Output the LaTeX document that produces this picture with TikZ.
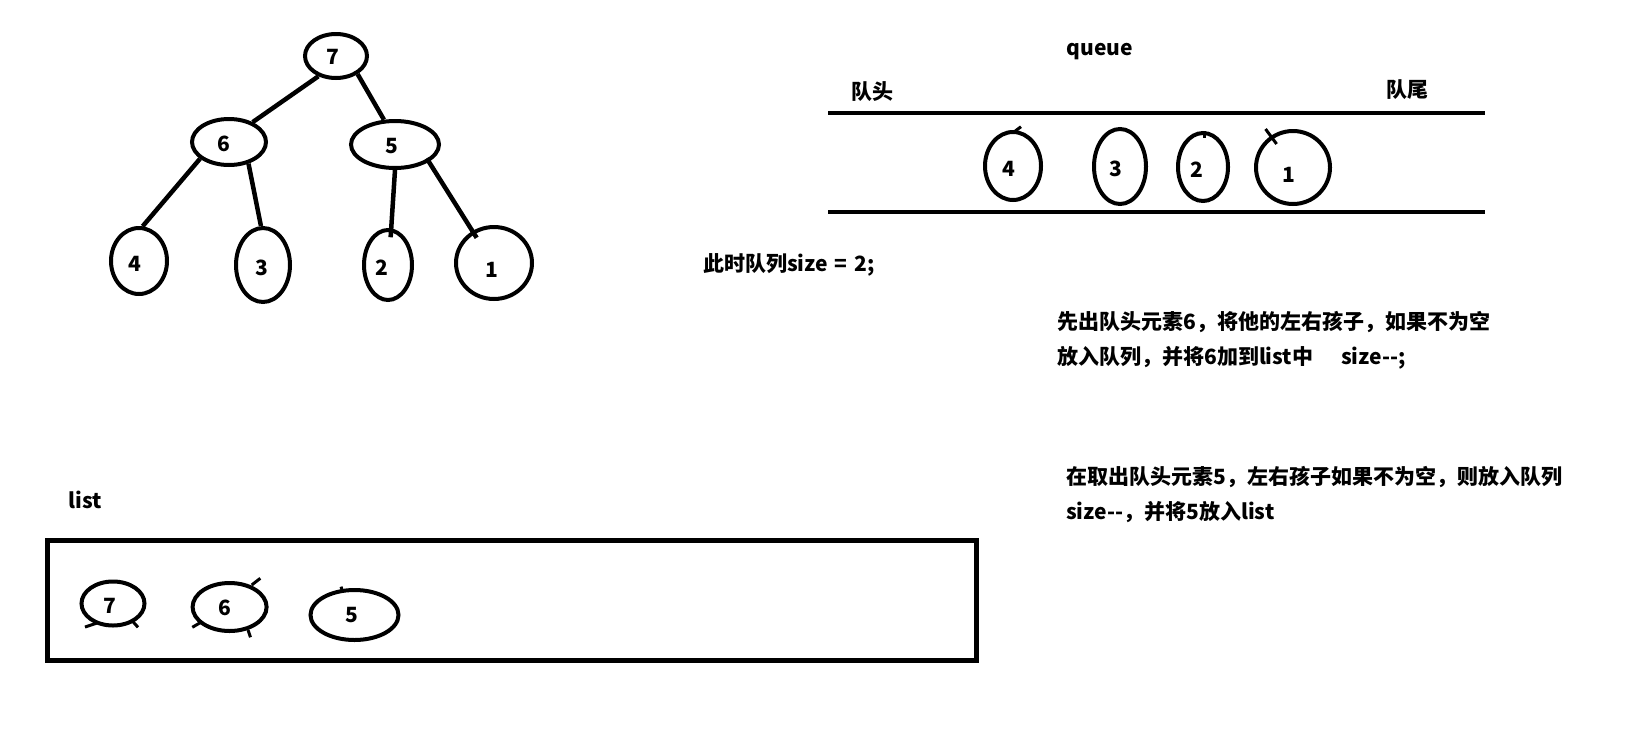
\documentclass[tikz,border=0pt]{standalone}
\usepackage{fontspec}
\newfontfamily\cjkf{Noto Sans CJK SC}
\usetikzlibrary{shapes.geometric}
\tikzset{
  txt/.style={font=\cjkf\fontsize{21}{25}\selectfont\bfseries, inner sep=0pt},
  ell/.style={draw, ellipse, line width=4pt, inner sep=0pt},
  edge/.style={line width=4.5pt},
  bar/.style={line width=4.5pt},
  tick/.style={line width=3pt},
}
\begin{document}
\begin{tikzpicture}[x=1pt,y=-1pt]
\useasboundingbox (0,0) rectangle (1637,739);
% ---- tree ----
\node[ell, minimum width=62pt, minimum height=44pt] (t7) at (336,56) {};
\node[ell, minimum width=74pt, minimum height=46pt] (t6) at (229,142) {};
\node[ell, minimum width=88pt, minimum height=47pt] (t5) at (395,144.5) {};
\node[ell, minimum width=56pt, minimum height=66pt] (t4) at (139,261) {};
\node[ell, minimum width=54pt, minimum height=74pt] (t3) at (263,265) {};
\node[ell, minimum width=48pt, minimum height=70pt] (t2) at (388,265) {};
\node[ell, minimum width=76pt, minimum height=72pt] (t1) at (494,263) {};
\node[txt] (t7l) at (333,57) {7};
\node[txt] (t6l) at (224,144) {6};
\node[txt] (t5l) at (392,146) {5};
\node[txt] (t4l) at (135,264) {4};
\node[txt] (t3l) at (262,268) {3};
\node[txt] (t2l) at (382,268) {2};
\node[txt] (t1l) at (492,270) {1};
\draw[edge] (t7.229) -- (t6.40);
\draw[edge] (t7.-40) -- (t5.114);
\draw[edge] (t6.210) -- (t4.84);
\draw[edge] (t6.-48) -- (t3.93);
\draw[edge, shorten >=-9pt] (t5.-90) -- (t2.85);
\draw[edge, shorten <=-4pt, shorten >=-8pt] (t5.-27) -- (t1.124);
% ---- queue ----
\node[txt] (qtitle) at (1100,52) {queue};
\node[txt] (qhead) at (872,92) {队头};
\node[txt] (qtail) at (1407,90) {队尾};
\coordinate (qtl) at (828,113);
\coordinate (qtr) at (1485,113);
\coordinate (qbl) at (828,212);
\coordinate (qbr) at (1485,212);
\draw[bar] (qtl) -- (qtr);
\draw[bar] (qbl) -- (qbr);
\node[ell, minimum width=56pt, minimum height=68pt] (q4) at (1013,166) {};
\node[ell, minimum width=52pt, minimum height=75pt] (q3) at (1120,166.5) {};
\node[ell, minimum width=50pt, minimum height=68pt] (q2) at (1203,167) {};
\node[ell, minimum width=74pt, minimum height=73pt] (q1) at (1293,167.5) {};
\node[txt] (q4l) at (1009,169) {4};
\node[txt] (q3l) at (1116,169) {3};
\node[txt] (q2l) at (1197,170) {2};
\node[txt] (q1l) at (1289,175) {1};
\draw[tick] (1014,132) -- (1021,126.7);
\draw[tick] (1204.5,131) -- (1204.5,138);
\draw[tick] (1265.5,129) -- (1276.6,144);
% ---- texts ----
\node[txt, anchor=west] (size) at (703,265) {此时队列size\hspace{2pt} = \hspace{2pt}2;};
\node[txt, anchor=west] (p1a) at (1057,322) {先出队头元素6，将他的左右孩子，如果不为空};
\node[txt, anchor=west] (p1b) at (1057,357.5) {放入队列，并将6加到list中\hspace{28pt}size--;};
\node[txt, anchor=west] (p2a) at (1066,477) {在取出队头元素5，左右孩子如果不为空，则放入队列};
\node[txt, anchor=west] (p2b) at (1066,512) {size--，并将5放入list};
% ---- list ----
\node[txt] (listlbl) at (85,500) {list};
\node[draw, rectangle, line width=5pt, minimum width=928.7pt, minimum height=120pt, inner sep=0pt] (listbox) at (512.2,600.8) {};
\node[ell, minimum width=63pt, minimum height=44pt] (l7) at (113,603.5) {};
\node[ell, minimum width=74pt, minimum height=48pt] (l6) at (229.6,607) {};
\node[ell, minimum width=88pt, minimum height=50pt] (l5) at (354.5,615) {};
\node[txt] (l7l) at (109.6,606) {7};
\node[txt] (l6l) at (224.7,608) {6};
\node[txt] (l5l) at (351.5,615) {5};
\draw[tick] (85,627) -- (97,623);
\draw[tick] (133,621.7) -- (138,627.3);
\draw[tick] (251.7,585) -- (260.3,578.3);
\draw[tick] (192.3,627.3) -- (200.2,622.7);
\draw[tick] (248,630) -- (250.5,637.3);
\draw[tick] (341,586.7) -- (342.3,590.7);
\draw[tick] (384,634) -- (391.3,629.3);
\end{tikzpicture}
\end{document}
